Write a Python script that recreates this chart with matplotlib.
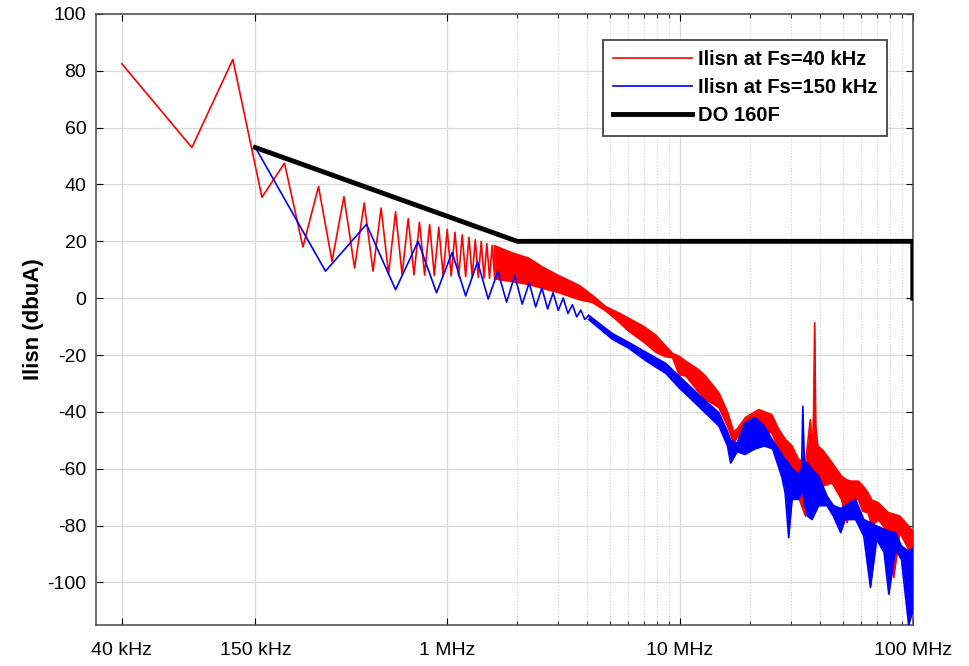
import numpy as np
import matplotlib.pyplot as plt
from matplotlib.ticker import FixedLocator, NullFormatter

plt.rcParams['font.family'] = ['Liberation Sans', 'DejaVu Sans']
plt.rcParams['axes.unicode_minus'] = False

# harmonics that are still resolved one by one (Hz, dBuA)
red_freq = [40e3, 80e3, 120e3, 160e3, 200e3, 240e3, 280e3, 320e3, 360e3, 400e3,
            440e3, 480e3, 520e3, 560e3, 600e3, 640e3, 680e3, 720e3, 760e3, 800e3,
            840e3, 880e3, 920e3, 960e3, 1.0e6, 1.04e6, 1.08e6, 1.12e6, 1.16e6, 1.2e6,
            1.24e6, 1.28e6, 1.32e6, 1.36e6, 1.4e6, 1.44e6, 1.48e6, 1.52e6, 1.56e6, 1.6e6]
red_val = [82.5, 53, 84, 35.5, 47.5, 18, 39.3, 13, 35.7, 10.6,
           33.5, 9.5, 31.7, 8.5, 30.4, 8.3, 28, 8.2, 26.7, 8.1,
           25.9, 8.0, 25.0, 7.9, 24.2, 7.8, 23.2, 7.7, 22.3, 7.6,
           21.4, 7.4, 20.6, 7.3, 19.9, 7.1, 19.2, 7.0, 18.6, 6.8]

blue_freq = [150e3, 300e3, 450e3, 600e3, 750e3, 900e3, 1.05e6, 1.2e6, 1.35e6, 1.5e6,
             1.65e6, 1.8e6, 1.95e6, 2.1e6, 2.25e6, 2.4e6, 2.55e6, 2.7e6, 2.85e6, 3.0e6,
             3.15e6, 3.3e6, 3.45e6, 3.6e6, 3.75e6, 3.9e6, 4.05e6]
blue_val = [53, 9.5, 26, 3, 20, 1.9, 16.1, 0.8, 12.8, -0.3,
            9.4, -1.4, 8, -2.1, 5.4, -3.1, 3.6, -3.8, 1.9, -4.3,
            0.1, -5.4, -2.3, -6.6, -4.2, -7.5, -6.2]

# dense part of the spectra: upper / lower envelope (MHz, dBuA)
red_band_f = [1.6, 1.91, 2.25, 2.56, 3.0, 3.69, 4.2, 4.8, 5.4, 6.0, 7.0, 7.87, 8.6, 9.3,
              9.9, 10.6, 12.0, 12.9, 14.7, 16.0, 17.0, 17.6, 19.1, 21.8, 24.8, 26.5,
              28.4, 30.3, 32.3, 34.6, 36.3, 37.0, 37.5, 37.9, 38.3, 39.1, 41.4, 45.0,
              49.4, 52.2, 54.6, 58.4, 61.0, 64.3, 66.6, 71.1, 78.7, 82.8, 88.0, 96.0, 100.0]
red_band_hi = [18.4, 15.9, 14, 11, 8, 4.5, 1, -3, -5, -7, -10, -13, -16.5, -19.5,
               -20.4, -22.2, -25.1, -27.5, -33.3, -40, -47, -46, -42, -39.2, -41, -46,
               -49.7, -52, -56.7, -57.9, -42.7, -55, -40, -8.7, -45, -52, -53.8, -57.9,
               -62.6, -64, -64.4, -64.4, -66, -68.5, -71, -72, -75.5, -76, -76.7, -80.2, -82]
red_band_lo = [6.8, 5.8, 4.8, 3.5, 2, -0.5, -1.5, -4.5, -8, -11.5, -15.5, -19, -20.5, -21,
               -26.9, -27.4, -33, -35.6, -38.5, -45, -51, -49, -48, -46.8, -47.4, -53,
               -56, -62.6, -70, -76.7, -60, -65, -62, -60, -62, -62.6, -66, -65,
               -70.8, -79, -70.8, -70.8, -75, -75.5, -80, -78, -82.5, -98.3, -82.5, -88.4, -88]

blue_band_f = [4.05, 5.13, 6.0, 7.13, 8.7, 9.9, 12.0, 14.7, 16.0, 16.5, 17.6, 19.0, 21.0,
               23.0, 25.0, 27.4, 28.3, 29.3, 30.3, 32.3, 33.3, 33.7, 34.2, 35.3, 36.9,
               39.4, 42.8, 45.6, 49.0, 51.2, 56.8, 61.6, 65.8, 70.0, 75.3, 78.9, 84.2,
               89.4, 96.0, 100.0]
blue_band_hi = [-6, -12.5, -15.5, -19, -23, -27.4, -33.9, -40.3, -47, -50, -51, -44, -42,
                -45, -50, -55, -56.7, -58, -60, -62, -60, -38, -58, -58, -60.2,
                -62.6, -69.6, -73, -74, -73, -70.8, -77.9, -79, -80.2, -81.3, -82, -82.5,
                -87.2, -89, -88]
blue_band_lo = [-7.5, -14.5, -17.5, -22, -26.5, -31.5, -38, -45, -52, -58, -54, -55, -53,
                -52, -53, -63, -68.5, -84.3, -70.8, -70.8, -68, -68, -72, -76.7, -77.9,
                -73, -73, -76.7, -82.5, -77.9, -77.9, -83.7, -101.8, -84.9, -89.5, -104.2, -88.4,
                -91.9, -115, -110]

limit_freq = [150e3, 2e6, 100e6, 100e6]
limit_val = [53, 20, 20, 0]

tick_freq = [40e3, 150e3, 1e6, 10e6, 100e6]
tick_labels = ['40 kHz', '150 kHz', '1 MHz', '10 MHz', '100 MHz']


def draw_band(ax, f_mhz, hi, lo, color):
    f = np.array(f_mhz) * 1e6
    ax.fill_between(f, lo, hi, color=color, lw=0, zorder=3)
    ax.plot(f, hi, color=color, lw=1.2, zorder=3)
    ax.plot(f, lo, color=color, lw=1.2, zorder=3)


fig = plt.figure(figsize=(9.7, 6.66), dpi=100)
ax = fig.add_axes([0.099, 0.0616, 0.842, 0.9174])

ax.plot(red_freq + [red_band_f[0] * 1e6], red_val + [red_band_hi[0]],
        color='red', lw=1.2, label='Ilisn at Fs=40 kHz', zorder=3)
draw_band(ax, red_band_f, red_band_hi, red_band_lo, 'red')

ax.plot(blue_freq, blue_val, color='blue', lw=1.2, label='Ilisn at Fs=150 kHz', zorder=4)
draw_band(ax, blue_band_f, blue_band_hi, blue_band_lo, 'blue')

ax.plot(limit_freq, limit_val, color='black', lw=3.5, label='DO 160F', zorder=5)

ax.set_xscale('log')
ax.set_xlim(31e3, 100e6)
ax.set_ylim(-115, 100)

ax.xaxis.set_major_locator(FixedLocator(tick_freq))
ax.set_xticklabels(tick_labels)
minor = [m * 1e6 for m in range(2, 10)] + [m * 1e7 for m in range(2, 10)]
ax.xaxis.set_minor_locator(FixedLocator(minor))
ax.xaxis.set_minor_formatter(NullFormatter())
ax.set_yticks(np.arange(-100, 101, 20))

ax.tick_params(which='both', direction='in', top=True, right=True, labelsize=14)
ax.tick_params(which='major', length=5)
ax.tick_params(which='minor', length=3)
ax.tick_params(axis='x', pad=12)
ax.tick_params(axis='y', pad=7)

ax.grid(which='major', color='#d9d9d9', lw=0.9, zorder=0)
ax.grid(which='minor', color='#cfcfcf', lw=0.8, ls=':', zorder=0)
ax.set_axisbelow(True)
for s in ax.spines.values():
    s.set_color('#555555')
    s.set_linewidth(1.2)

ax.set_ylabel('Ilisn (dbuA)', fontsize=16, fontweight='bold', labelpad=2)

leg = ax.legend(loc='upper right', bbox_to_anchor=(0.969, 0.957), borderaxespad=0,
                prop={'weight': 'bold', 'size': 14.5}, handlelength=3.9,
                handletextpad=0.3, fancybox=False, framealpha=1,
                borderpad=0.5, labelspacing=0.45)
leg.get_frame().set_edgecolor('#444444')
leg.get_frame().set_linewidth(1.3)

fig.savefig('out.png', dpi=100)
